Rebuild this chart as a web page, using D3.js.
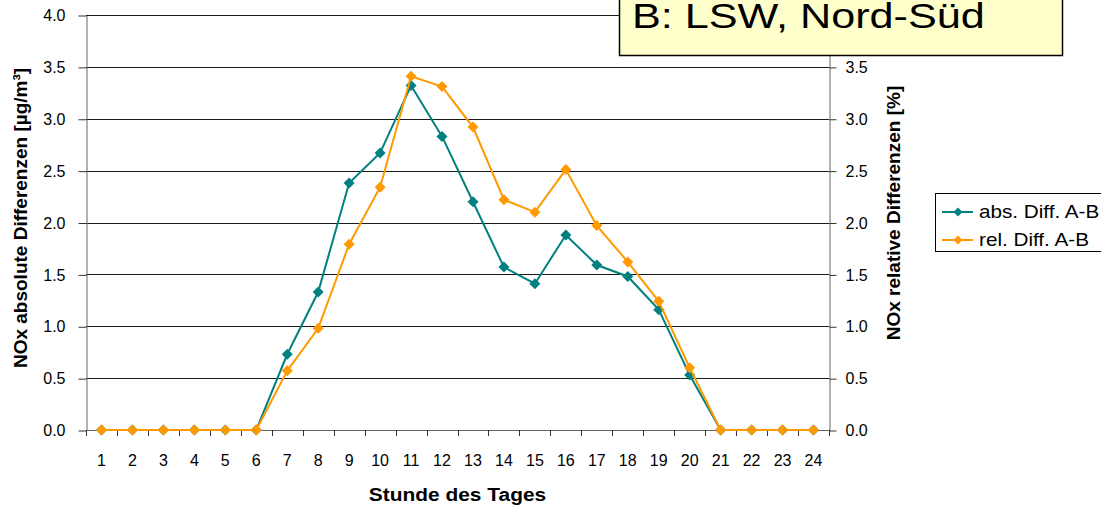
<!DOCTYPE html>
<html>
<head>
<meta charset="utf-8">
<script src="https://cdn.jsdelivr.net/npm/d3@7"></script>
<style>
  html, body { margin: 0; padding: 0; background: #fff; }
  svg { display: block; font-family: "Liberation Sans", Arial, sans-serif; }
</style>
</head>
<body>
<svg id="chart" width="1101" height="506"></svg>
<script>
// Hour of day (categories)
const hours = d3.range(1, 25).map(String);
// NOx absolute difference A-B [µg/m³] (left axis)
const absDiff = [0, 0, 0, 0, 0, 0, 0.73, 1.33, 2.38, 2.67, 3.32, 2.83, 2.20, 1.57, 1.41, 1.88, 1.59, 1.48, 1.16, 0.53, 0, 0, 0, 0];
// NOx relative difference A-B [%] (right axis)
const relDiff = [0, 0, 0, 0, 0, 0, 0.57, 0.98, 1.79, 2.34, 3.41, 3.31, 2.92, 2.22, 2.10, 2.51, 1.97, 1.62, 1.24, 0.60, 0, 0, 0, 0];
// Axis tick values
const yTicksLeft = [0, 0.5, 1.0, 1.5, 2.0, 2.5, 3.0, 3.5, 4.0];
const yTicksRight = [0, 0.5, 1.0, 1.5, 2.0, 2.5, 3.0, 3.5];

const seriesNames = ["abs. Diff. A-B", "rel. Diff. A-B"];
const seriesColors = ["#008080", "#FF9900"];

const svg = d3.select("#chart");
const plotLeft = 86, plotRight = 829, plotTop = 15, plotBottom = 430;

const x = d3.scaleBand().domain(hours).range([plotLeft, plotRight]);
const yL = d3.scaleLinear().domain([0, 4]).range([plotBottom, plotTop]);
const yR = d3.scaleLinear().domain([0, 4]).range([plotBottom, plotTop]);

// Horizontal gridlines
svg.append("g")
  .selectAll("line")
  .data(yTicksLeft.filter(d => d > 0))
  .join("line")
  .attr("x1", plotLeft).attr("x2", plotRight)
  .attr("y1", d => Math.round(yL(d)) + 0.5)
  .attr("y2", d => Math.round(yL(d)) + 0.5)
  .attr("stroke", "#1a1a1a")
  .attr("stroke-width", 1);

// Left axis
const gL = svg.append("g")
  .attr("transform", `translate(${plotLeft + 0.5},0.5)`)
  .call(d3.axisLeft(yL).tickValues(yTicksLeft).tickFormat(d3.format(".1f"))
    .tickSize(8).tickSizeOuter(0).tickPadding(13));
gL.select(".domain").attr("stroke", "#666");
gL.selectAll(".tick line").attr("stroke", "#333");
gL.selectAll("text").attr("font-size", 16).attr("fill", "#000")
  .attr("font-family", "Liberation Sans, Arial, sans-serif");

// Right axis
const gR = svg.append("g")
  .attr("transform", `translate(${plotRight + 0.5},0.5)`)
  .call(d3.axisRight(yR).tickValues(yTicksRight).tickFormat(d3.format(".1f"))
    .tickSize(7).tickSizeOuter(0).tickPadding(9));
gR.select(".domain").attr("stroke", "#666");
gR.selectAll(".tick line").attr("stroke", "#333");
gR.selectAll("text").attr("font-size", 16).attr("fill", "#000")
  .attr("font-family", "Liberation Sans, Arial, sans-serif");

// Bottom axis: line, boundary ticks, centred labels
const gB = svg.append("g");
gB.append("line")
  .attr("x1", plotLeft).attr("x2", plotRight)
  .attr("y1", plotBottom + 0.5).attr("y2", plotBottom + 0.5)
  .attr("stroke", "#666");
const boundaries = hours.map(h => x(h)).concat([x(hours[hours.length - 1]) + x.bandwidth()]);
gB.selectAll("line.tk")
  .data(boundaries)
  .join("line")
  .attr("class", "tk")
  .attr("x1", d => Math.round(d) + 0.5).attr("x2", d => Math.round(d) + 0.5)
  .attr("y1", plotBottom).attr("y2", plotBottom + 6)
  .attr("stroke", "#333");
gB.selectAll("text")
  .data(hours)
  .join("text")
  .attr("x", d => x(d) + x.bandwidth() / 2)
  .attr("y", 466)
  .attr("text-anchor", "middle")
  .attr("font-size", 16)
  .text(d => d);

// Series lines and diamond markers
const diamond = "M0,-5.5L5.5,0L0,5.5L-5.5,0Z";
[absDiff, relDiff].forEach((vals, i) => {
  const ys = i === 0 ? yL : yR;
  const pts = hours.map((h, j) => [x(h) + x.bandwidth() / 2, ys(vals[j])]);
  svg.append("path")
    .attr("d", d3.line()(pts))
    .attr("fill", "none")
    .attr("stroke", seriesColors[i])
    .attr("stroke-width", 2);
  svg.append("g")
    .selectAll("path")
    .data(pts)
    .join("path")
    .attr("d", diamond)
    .attr("transform", d => `translate(${d[0]},${d[1]})`)
    .attr("fill", seriesColors[i]);
});

// Axis titles
svg.append("text")
  .attr("transform", "translate(27,218) rotate(-90)")
  .attr("text-anchor", "middle")
  .attr("font-size", 19).attr("font-weight", "bold")
  .text("NOx absolute Differenzen [µg/m³]");
svg.append("text")
  .attr("transform", "translate(900,213) rotate(-90)")
  .attr("text-anchor", "middle")
  .attr("font-size", 19).attr("font-weight", "bold")
  .text("NOx relative Differenzen [%]");
svg.append("text")
  .attr("transform", `translate(${(plotLeft + plotRight) / 2},501) scale(1.1,1)`)
  .attr("text-anchor", "middle")
  .attr("font-size", 19).attr("font-weight", "bold")
  .text("Stunde des Tages");

// Title box
svg.append("rect")
  .attr("x", 619.5).attr("y", -10)
  .attr("width", 443).attr("height", 65.5)
  .attr("fill", "#FFFFCC").attr("stroke", "#000").attr("stroke-width", 1.5);
svg.append("text")
  .attr("transform", "translate(632,28) scale(1.2,1)")
  .attr("font-size", 36)
  .text("B: LSW, Nord-Süd");

// Legend
const lg = svg.append("g");
lg.append("rect")
  .attr("x", 935.5).attr("y", 193.5)
  .attr("width", 180).attr("height", 58)
  .attr("fill", "#fff").attr("stroke", "#000");
const lgItems = lg.selectAll("g.item")
  .data(seriesNames)
  .join("g")
  .attr("class", "item")
  .attr("transform", (d, i) => `translate(0,${212 + i * 28})`);
lgItems.append("line")
  .attr("x1", 942).attr("x2", 973)
  .attr("stroke", (d, i) => seriesColors[i]).attr("stroke-width", 2);
lgItems.append("path")
  .attr("d", "M0,-4.5L4.5,0L0,4.5L-4.5,0Z")
  .attr("transform", "translate(958,0)")
  .attr("fill", (d, i) => seriesColors[i]);
lgItems.append("text")
  .attr("transform", "translate(979,6) scale(1.15,1)")
  .attr("font-size", 18)
  .text(d => d);
</script>
</body>
</html>
